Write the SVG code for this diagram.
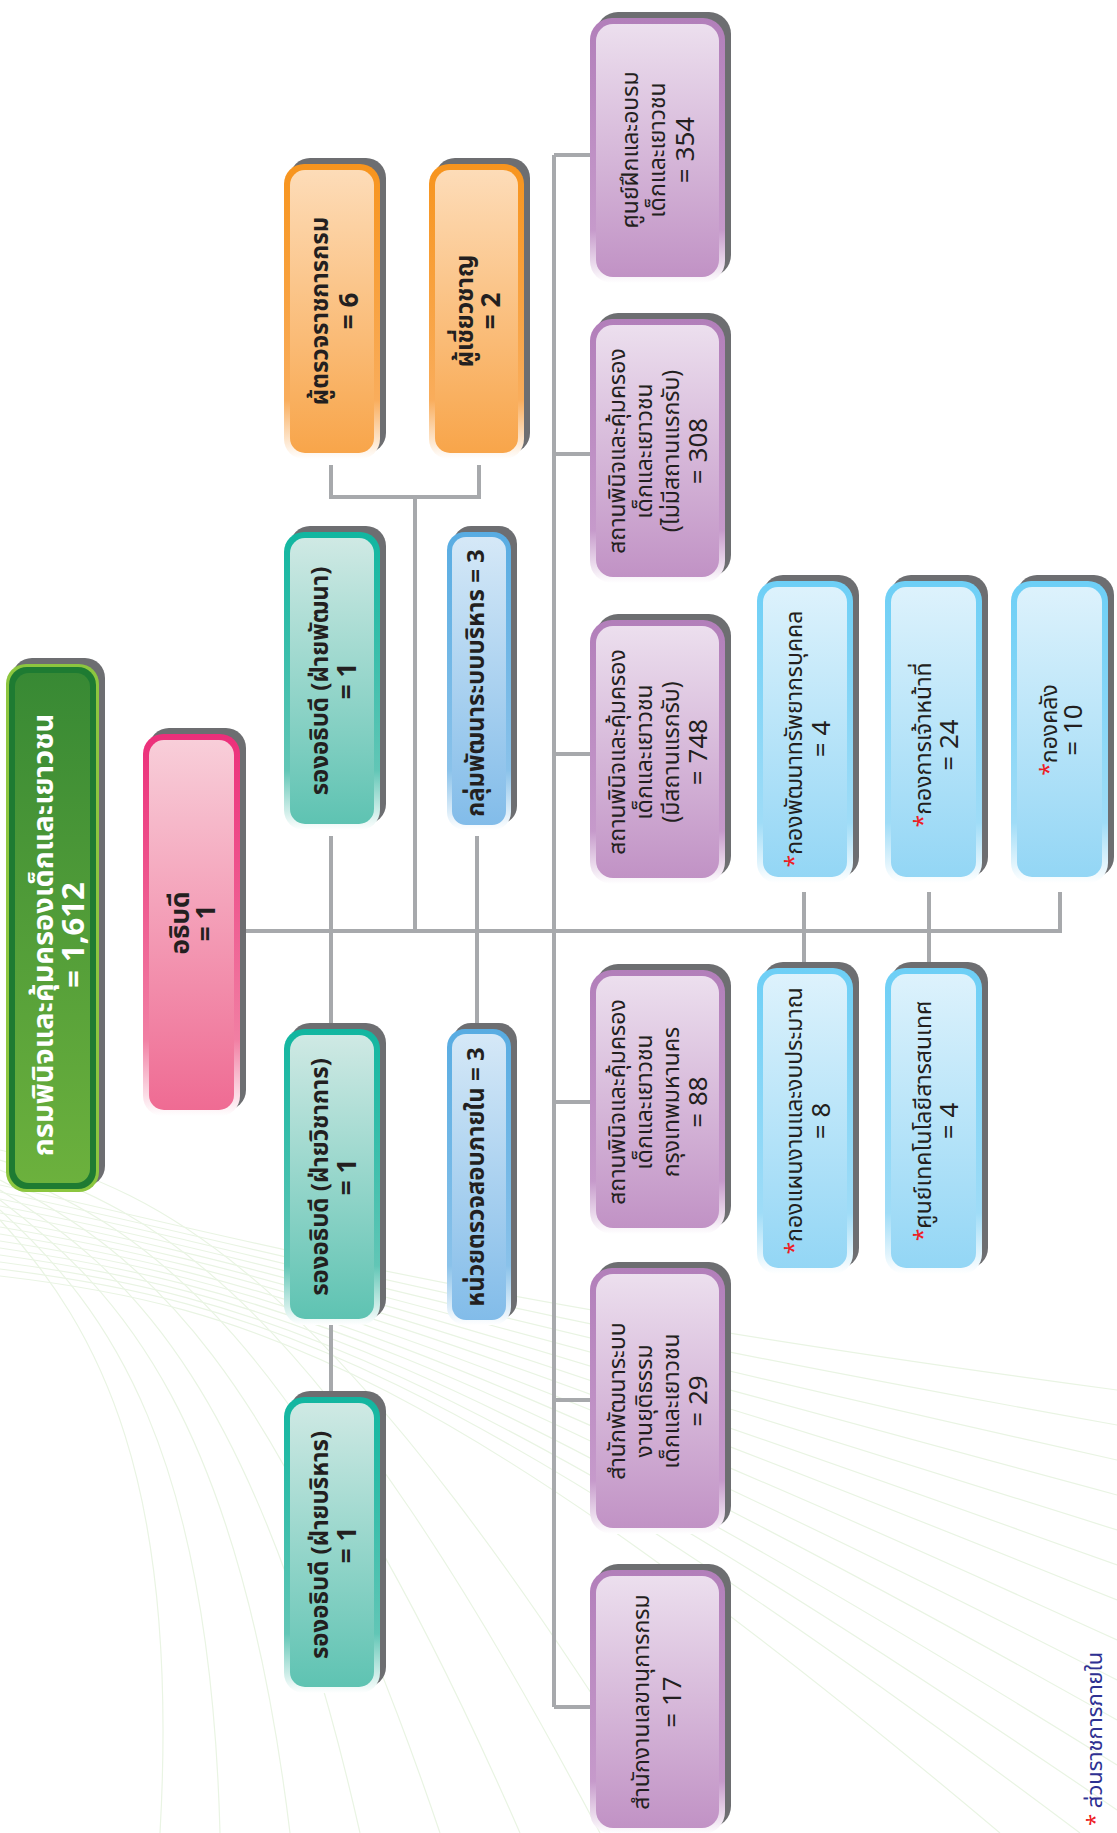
<svg xmlns="http://www.w3.org/2000/svg" width="1117" height="1833" viewBox="0 0 1117 1833">
<style>
.sh{fill:#6d6e71}
.t{font-family:'Noto Sans Thai','Noto Sans','DejaVu Sans',sans-serif;fill:#231f20;text-anchor:middle;dominant-baseline:central}
.p{font-size:23px}
.b{font-size:24px;font-weight:bold}
.s{font-size:23px}
.n{font-size:26px}
.ast{fill:#ed1c24}
.ln{stroke:#a7a9ac;stroke-width:4;fill:none}
.bg{stroke:#e9f4e3;stroke-width:1.2;fill:none}
</style>
<defs>
<linearGradient id="bPur" x1="0" y1="0" x2="0" y2="1"><stop offset="0" stop-color="#b27fba"/><stop offset="0.8" stop-color="#c69acb"/><stop offset="1" stop-color="#ffffff"/></linearGradient>
<linearGradient id="fPur" x1="0" y1="0" x2="0" y2="1"><stop offset="0" stop-color="#ecdfee"/><stop offset="1" stop-color="#c192c5"/></linearGradient>
<linearGradient id="bTeal" x1="0" y1="0" x2="0" y2="1"><stop offset="0" stop-color="#11b6a0"/><stop offset="0.8" stop-color="#62c6b6"/><stop offset="1" stop-color="#ffffff"/></linearGradient>
<linearGradient id="fTeal" x1="0" y1="0" x2="0" y2="1"><stop offset="0" stop-color="#cfe9e4"/><stop offset="1" stop-color="#5ec3b2"/></linearGradient>
<linearGradient id="bOr" x1="0" y1="0" x2="0" y2="1"><stop offset="0" stop-color="#f7941d"/><stop offset="0.8" stop-color="#f9ad5c"/><stop offset="1" stop-color="#ffffff"/></linearGradient>
<linearGradient id="fOr" x1="0" y1="0" x2="0" y2="1"><stop offset="0" stop-color="#fddcb8"/><stop offset="1" stop-color="#f8a54a"/></linearGradient>
<linearGradient id="bPk" x1="0" y1="0" x2="0" y2="1"><stop offset="0" stop-color="#ec2f7a"/><stop offset="0.8" stop-color="#f17fa3"/><stop offset="1" stop-color="#ffffff"/></linearGradient>
<linearGradient id="fPk" x1="0" y1="0" x2="0" y2="1"><stop offset="0" stop-color="#f8ced9"/><stop offset="1" stop-color="#ef6b93"/></linearGradient>
<linearGradient id="bBl" x1="0" y1="0" x2="0" y2="1"><stop offset="0" stop-color="#58ace2"/><stop offset="0.8" stop-color="#8ac2ea"/><stop offset="1" stop-color="#ffffff"/></linearGradient>
<linearGradient id="fBl" x1="0" y1="0" x2="0" y2="1"><stop offset="0" stop-color="#d5e8f7"/><stop offset="1" stop-color="#82bce9"/></linearGradient>
<linearGradient id="bSky" x1="0" y1="0" x2="0" y2="1"><stop offset="0" stop-color="#6dcff6"/><stop offset="0.8" stop-color="#9fdcf7"/><stop offset="1" stop-color="#ffffff"/></linearGradient>
<linearGradient id="fSky" x1="0" y1="0" x2="0" y2="1"><stop offset="0" stop-color="#ddf2fc"/><stop offset="1" stop-color="#93d6f5"/></linearGradient>
<linearGradient id="fGr" x1="0" y1="0" x2="0" y2="1"><stop offset="0" stop-color="#388934"/><stop offset="1" stop-color="#6cb13d"/></linearGradient>
</defs>

<g id="background">
<path class="bg" d="M0 1185 C 250 1240, 450 1300, 1117 1390"/>
<path class="bg" d="M0 1192 C 250 1245, 450 1305, 1117 1425"/>
<path class="bg" d="M0 1199 C 250 1250, 450 1310, 1117 1460"/>
<path class="bg" d="M0 1206 C 250 1255, 450 1315, 1117 1495"/>
<path class="bg" d="M0 1213 C 250 1260, 450 1320, 1117 1530"/>
<path class="bg" d="M0 1220 C 250 1265, 450 1325, 1117 1565"/>
<path class="bg" d="M0 1227 C 250 1270, 450 1330, 1117 1600"/>
<path class="bg" d="M0 1234 C 250 1275, 450 1335, 1117 1640"/>
<path class="bg" d="M0 1241 C 250 1280, 450 1340, 1117 1680"/>
<path class="bg" d="M0 1248 C 250 1285, 450 1345, 1117 1720"/>
<path class="bg" d="M0 1255 C 250 1290, 450 1350, 1117 1765"/>
<path class="bg" d="M0 1262 C 250 1295, 450 1355, 1117 1810"/>
<path class="bg" d="M0 1269 C 250 1300, 450 1360, 1080 1833"/>
<path class="bg" d="M0 1276 C 250 1305, 450 1370, 1000 1833"/>
<path class="bg" d="M0 1170 C 150 1230, 300 1330, 520 1833"/>
<path class="bg" d="M0 1180 C 140 1250, 280 1360, 440 1833"/>
<path class="bg" d="M0 1190 C 130 1270, 260 1390, 360 1833"/>
<path class="bg" d="M0 1200 C 120 1290, 240 1420, 290 1833"/>
<path class="bg" d="M0 1210 C 110 1310, 210 1450, 220 1833"/>
<path class="bg" d="M0 1220 C 100 1330, 180 1480, 160 1833"/>
<path class="bg" d="M0 1160 C 160 1210, 320 1300, 600 1833"/>
<path class="bg" d="M0 1150 C 170 1190, 340 1280, 680 1833"/>
</g>

<g id="connectors">
<path class="ln" d="M240 931 H1060 V892"/>
<path class="ln" d="M929 892 V968"/>
<path class="ln" d="M804 892 V968"/>
<path class="ln" d="M331 836 V1391"/>
<path class="ln" d="M477 836 V1026"/>
<path class="ln" d="M415 931 V497"/>
<path class="ln" d="M331 465 V497 H479 V465"/>
<path class="ln" d="M554 155 V1707"/>
<path class="ln" d="M554 155 H590 M554 454 H590 M554 754 H590 M554 1102 H590 M554 1400 H590 M554 1707 H590"/>
</g>

<g id="title">
<rect class="sh" x="12" y="658" width="93" height="528" rx="20"/>
<rect x="6" y="664" width="93" height="528" rx="20" fill="#8cc63f"/>
<rect x="9" y="667" width="87" height="522" rx="18" fill="#1e7b32"/>
<rect x="15" y="673" width="75" height="510" rx="14" fill="url(#fGr)"/>
<text class="t" transform="translate(52.5,935) rotate(-90)" style="fill:#ffffff;font-weight:bold;font-size:29px"><tspan x="0" y="-9">กรมพินิจและคุ้มครองเด็กและเยาวชน</tspan><tspan x="0" y="21" style="font-size:31px">= 1,612</tspan></text>
</g>

<g id="director">
<rect class="sh" x="149" y="728" width="97" height="382" rx="20"/>
<rect x="143" y="734" width="97" height="382" rx="20" fill="url(#bPk)"/>
<rect x="149" y="740" width="85" height="370" rx="15" fill="url(#fPk)"/>
<text class="t b" transform="translate(191.5,923) rotate(-90)" style="font-size:26px"><tspan x="0" y="-11">อธิบดี</tspan><tspan x="0" y="15">= 1</tspan></text>
</g>

<g id="inspector">
<rect class="sh" x="290" y="158" width="96" height="295" rx="20"/>
<rect x="284" y="164" width="96" height="295" rx="20" fill="url(#bOr)"/>
<rect x="290" y="170" width="84" height="283" rx="15" fill="url(#fOr)"/>
<text class="t b" transform="translate(332,311) rotate(-90)"><tspan x="0" y="-11">ผู้ตรวจราชการกรม</tspan><tspan x="0" y="18" class="n">= 6</tspan></text>
</g>

<g id="expert">
<rect class="sh" x="435" y="158" width="95" height="295" rx="20"/>
<rect x="429" y="164" width="95" height="295" rx="20" fill="url(#bOr)"/>
<rect x="435" y="170" width="83" height="283" rx="15" fill="url(#fOr)"/>
<text class="t b" transform="translate(476.5,311) rotate(-90)"><tspan x="0" y="-11">ผู้เชี่ยวชาญ</tspan><tspan x="0" y="15" class="n">= 2</tspan></text>
</g>

<g id="deputy-dev">
<rect class="sh" x="290" y="526" width="96" height="298" rx="20"/>
<rect x="284" y="532" width="96" height="298" rx="20" fill="url(#bTeal)"/>
<rect x="290" y="538" width="84" height="286" rx="15" fill="url(#fTeal)"/>
<text class="t b" transform="translate(332,681) rotate(-90)"><tspan x="0" y="-11">รองอธิบดี (ฝ่ายพัฒนา)</tspan><tspan x="0" y="16" class="n">= 1</tspan></text>
</g>

<g id="deputy-acad">
<rect class="sh" x="290" y="1023" width="96" height="296" rx="20"/>
<rect x="284" y="1029" width="96" height="296" rx="20" fill="url(#bTeal)"/>
<rect x="290" y="1035" width="84" height="284" rx="15" fill="url(#fTeal)"/>
<text class="t b" transform="translate(332,1177) rotate(-90)"><tspan x="0" y="-11">รองอธิบดี (ฝ่ายวิชาการ)</tspan><tspan x="0" y="16" class="n">= 1</tspan></text>
</g>

<g id="deputy-admin">
<rect class="sh" x="290" y="1391" width="96" height="296" rx="20"/>
<rect x="284" y="1397" width="96" height="296" rx="20" fill="url(#bTeal)"/>
<rect x="290" y="1403" width="84" height="284" rx="15" fill="url(#fTeal)"/>
<text class="t b" transform="translate(332,1545) rotate(-90)"><tspan x="0" y="-11">รองอธิบดี (ฝ่ายบริหาร)</tspan><tspan x="0" y="16" class="n">= 1</tspan></text>
</g>

<g id="mgmt-dev-group">
<rect class="sh" x="453" y="526" width="64" height="298" rx="18"/>
<rect x="447" y="532" width="64" height="298" rx="18" fill="url(#bBl)"/>
<rect x="452" y="537" width="54" height="288" rx="14" fill="url(#fBl)"/>
<text class="t b" transform="translate(477,683) rotate(-90)">กลุ่มพัฒนาระบบบริหาร = 3</text>
</g>

<g id="audit-unit">
<rect class="sh" x="453" y="1023" width="64" height="296" rx="18"/>
<rect x="447" y="1029" width="64" height="296" rx="18" fill="url(#bBl)"/>
<rect x="452" y="1034" width="54" height="286" rx="14" fill="url(#fBl)"/>
<text class="t b" transform="translate(477,1177) rotate(-90)">หน่วยตรวจสอบภายใน = 3</text>
</g>

<g id="training-center">
<rect class="sh" x="596" y="12" width="135" height="265" rx="22"/>
<rect x="590" y="18" width="135" height="265" rx="22" fill="url(#bPur)"/>
<rect x="596" y="24" width="123" height="253" rx="17" fill="url(#fPur)"/>
<text class="t p" transform="translate(657.5,150) rotate(-90)"><tspan x="0" y="-27">ศูนย์ฝึกและอบรม</tspan><tspan x="0" y="0">เด็กและเยาวชน</tspan><tspan x="0" y="28" class="n">= 354</tspan></text>
</g>

<g id="obs-no-reception">
<rect class="sh" x="596" y="313" width="135" height="264" rx="22"/>
<rect x="590" y="319" width="135" height="264" rx="22" fill="url(#bPur)"/>
<rect x="596" y="325" width="123" height="252" rx="17" fill="url(#fPur)"/>
<text class="t p" transform="translate(657.5,451) rotate(-90)"><tspan x="0" y="-40">สถานพินิจและคุ้มครอง</tspan><tspan x="0" y="-13">เด็กและเยาวชน</tspan><tspan x="0" y="14">(ไม่มีสถานแรกรับ)</tspan><tspan x="0" y="41" class="n">= 308</tspan></text>
</g>

<g id="obs-reception">
<rect class="sh" x="596" y="614" width="135" height="264" rx="22"/>
<rect x="590" y="620" width="135" height="264" rx="22" fill="url(#bPur)"/>
<rect x="596" y="626" width="123" height="252" rx="17" fill="url(#fPur)"/>
<text class="t p" transform="translate(657.5,752) rotate(-90)"><tspan x="0" y="-40">สถานพินิจและคุ้มครอง</tspan><tspan x="0" y="-13">เด็กและเยาวชน</tspan><tspan x="0" y="14">(มีสถานแรกรับ)</tspan><tspan x="0" y="41" class="n">= 748</tspan></text>
</g>

<g id="obs-bangkok">
<rect class="sh" x="596" y="964" width="135" height="264" rx="22"/>
<rect x="590" y="970" width="135" height="264" rx="22" fill="url(#bPur)"/>
<rect x="596" y="976" width="123" height="252" rx="17" fill="url(#fPur)"/>
<text class="t p" transform="translate(657.5,1102) rotate(-90)"><tspan x="0" y="-40">สถานพินิจและคุ้มครอง</tspan><tspan x="0" y="-13">เด็กและเยาวชน</tspan><tspan x="0" y="14">กรุงเทพมหานคร</tspan><tspan x="0" y="41" class="n">= 88</tspan></text>
</g>

<g id="justice-office">
<rect class="sh" x="596" y="1262" width="135" height="266" rx="22"/>
<rect x="590" y="1268" width="135" height="266" rx="22" fill="url(#bPur)"/>
<rect x="596" y="1274" width="123" height="254" rx="17" fill="url(#fPur)"/>
<text class="t p" transform="translate(657.5,1401) rotate(-90)"><tspan x="0" y="-40">สำนักพัฒนาระบบ</tspan><tspan x="0" y="-13">งานยุติธรรม</tspan><tspan x="0" y="14">เด็กและเยาวชน</tspan><tspan x="0" y="41" class="n">= 29</tspan></text>
</g>

<g id="secretary-office">
<rect class="sh" x="596" y="1564" width="135" height="264" rx="22"/>
<rect x="590" y="1570" width="135" height="264" rx="22" fill="url(#bPur)"/>
<rect x="596" y="1576" width="123" height="252" rx="17" fill="url(#fPur)"/>
<text class="t p" transform="translate(657.5,1702) rotate(-90)"><tspan x="0" y="-16">สำนักงานเลขานุการกรม</tspan><tspan x="0" y="15" class="n">= 17</tspan></text>
</g>

<g id="hr-division">
<rect class="sh" x="763" y="575" width="96" height="302" rx="20"/>
<rect x="757" y="581" width="96" height="302" rx="20" fill="url(#bSky)"/>
<rect x="763" y="587" width="84" height="290" rx="15" fill="url(#fSky)"/>
<text class="t s" transform="translate(805,739) rotate(-90)"><tspan x="0" y="-10"><tspan class="ast">*</tspan>กองพัฒนาทรัพยากรบุคคล</tspan><tspan x="0" y="17" class="n">= 4</tspan></text>
</g>

<g id="personnel-division">
<rect class="sh" x="891" y="575" width="97" height="302" rx="20"/>
<rect x="885" y="581" width="97" height="302" rx="20" fill="url(#bSky)"/>
<rect x="891" y="587" width="85" height="290" rx="15" fill="url(#fSky)"/>
<text class="t s" transform="translate(933.5,745) rotate(-90)"><tspan x="0" y="-10"><tspan class="ast">*</tspan>กองการเจ้าหน้าที่</tspan><tspan x="0" y="16" class="n">= 24</tspan></text>
</g>

<g id="finance-division">
<rect class="sh" x="1017" y="575" width="97" height="302" rx="20"/>
<rect x="1011" y="581" width="97" height="302" rx="20" fill="url(#bSky)"/>
<rect x="1017" y="587" width="85" height="290" rx="15" fill="url(#fSky)"/>
<text class="t s" transform="translate(1059.5,730) rotate(-90)"><tspan x="0" y="-10"><tspan class="ast">*</tspan>กองคลัง</tspan><tspan x="0" y="14" class="n">= 10</tspan></text>
</g>

<g id="planning-division">
<rect class="sh" x="763" y="962" width="96" height="306" rx="20"/>
<rect x="757" y="968" width="96" height="306" rx="20" fill="url(#bSky)"/>
<rect x="763" y="974" width="84" height="294" rx="15" fill="url(#fSky)"/>
<text class="t s" transform="translate(805,1121) rotate(-90)"><tspan x="0" y="-10"><tspan class="ast">*</tspan>กองแผนงานและงบประมาณ</tspan><tspan x="0" y="17" class="n">= 8</tspan></text>
</g>

<g id="ict-center">
<rect class="sh" x="891" y="962" width="97" height="306" rx="20"/>
<rect x="885" y="968" width="97" height="306" rx="20" fill="url(#bSky)"/>
<rect x="891" y="974" width="85" height="294" rx="15" fill="url(#fSky)"/>
<text class="t s" transform="translate(933.5,1121) rotate(-90)"><tspan x="0" y="-10"><tspan class="ast">*</tspan>ศูนย์เทคโนโลยีสารสนเทศ</tspan><tspan x="0" y="16" class="n">= 4</tspan></text>
</g>

<g id="legend">
<text class="t" transform="translate(1095,1826) rotate(-90)" style="text-anchor:start;font-size:22px;fill:#2e3192"><tspan class="ast">*</tspan> ส่วนราชการภายใน</text>
</g>
</svg>
